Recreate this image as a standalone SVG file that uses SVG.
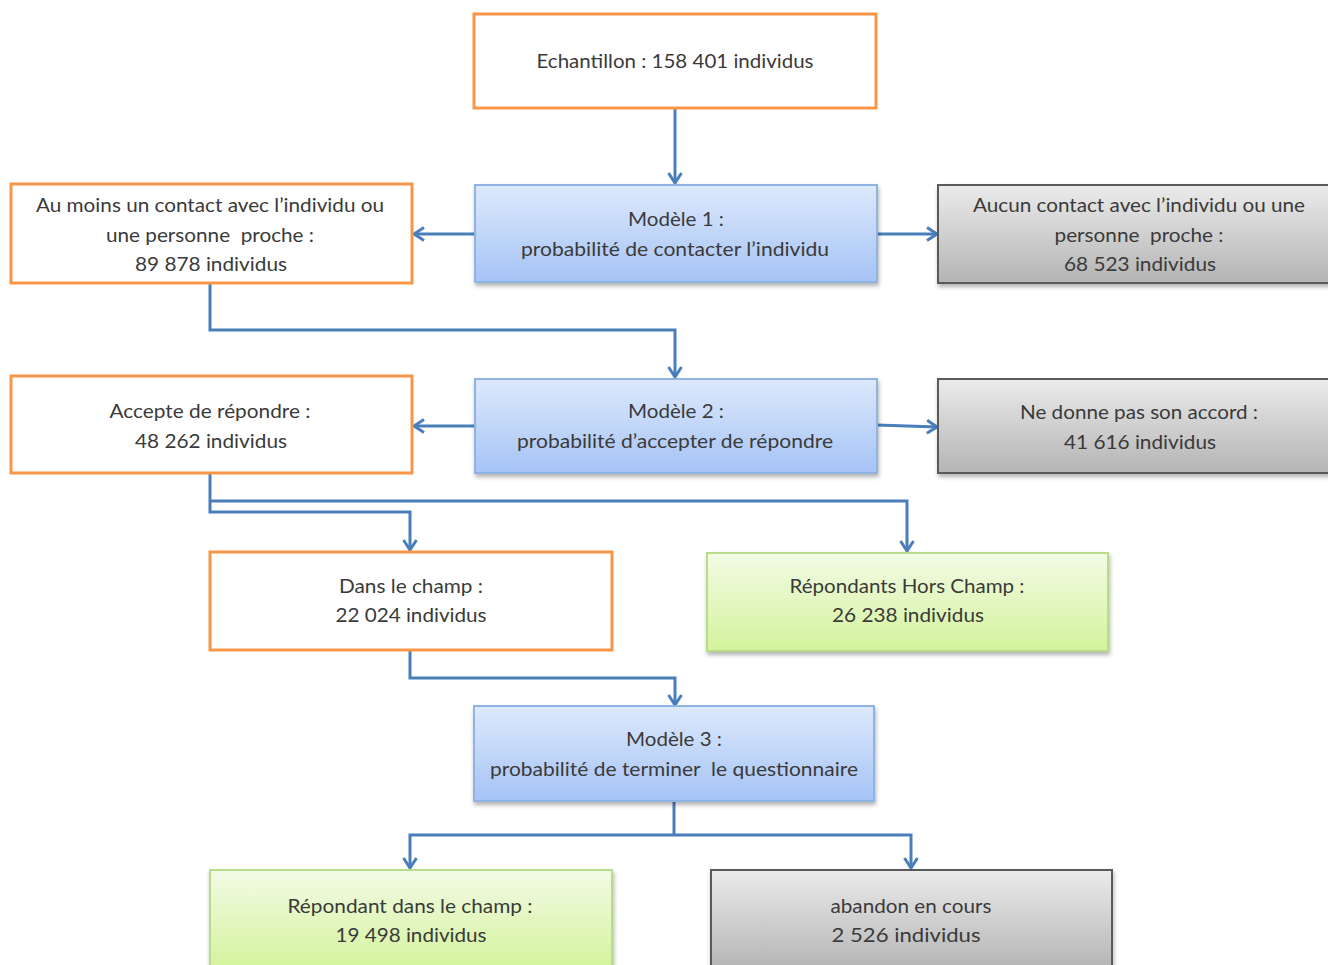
<svg xmlns="http://www.w3.org/2000/svg" width="1328" height="965" viewBox="0 0 1328 965">
<style>
  .txt { font-family: Lato, "Open Sans", "Liberation Sans", sans-serif; font-size: 20px; fill: #3a3a3a; text-anchor: middle; white-space: pre; }
  .orange { fill: #ffffff; stroke: #f79646; stroke-width: 3; }
  .blue { fill: url(#gBlue); stroke: #8fb3e3; stroke-width: 2; filter: url(#sh); }
  .gray { fill: url(#gGray); stroke: #5a5a5a; stroke-width: 2; filter: url(#sh); }
  .green { fill: url(#gGreen); stroke: #b9dc8c; stroke-width: 2; filter: url(#sh); }
  .conn { fill: none; stroke: #4a7ebb; stroke-width: 3; }
</style>
<defs>
  <linearGradient id="gBlue" x1="0" y1="0" x2="0" y2="1">
    <stop offset="0" stop-color="#dde9fc"/>
    <stop offset="1" stop-color="#a5c3f5"/>
  </linearGradient>
  <linearGradient id="gGray" x1="0" y1="0" x2="0" y2="1">
    <stop offset="0" stop-color="#ebebeb"/>
    <stop offset="1" stop-color="#b4b4b4"/>
  </linearGradient>
  <linearGradient id="gGreen" x1="0" y1="0" x2="0" y2="1">
    <stop offset="0" stop-color="#f2fbe5"/>
    <stop offset="1" stop-color="#d4f39c"/>
  </linearGradient>
  <filter id="sh" x="-5%" y="-10%" width="115%" height="130%">
    <feDropShadow dx="1" dy="3" stdDeviation="2" flood-color="#000" flood-opacity="0.3"/>
  </filter>
  <marker id="arr" markerWidth="16" markerHeight="16" viewBox="0 0 16 16" refX="13" refY="8" orient="auto" markerUnits="userSpaceOnUse">
    <polyline points="3,1.5 13,8 3,14.5" fill="none" stroke="#4a7ebb" stroke-width="3"/>
  </marker>
</defs>

<g id="connectors">
  <path class="conn" d="M675,108 V183" marker-end="url(#arr)"/>
  <path class="conn" d="M475,234 H414" marker-end="url(#arr)"/>
  <path class="conn" d="M877,234 H937" marker-end="url(#arr)"/>
  <path class="conn" d="M210,283 V330 H675 V377" marker-end="url(#arr)"/>
  <path class="conn" d="M475,426 H414" marker-end="url(#arr)"/>
  <path class="conn" d="M877,425 L937,427" marker-end="url(#arr)"/>
  <path class="conn" d="M210,473 V512 H410 V550" marker-end="url(#arr)"/>
  <path class="conn" d="M210,501 H907 V551" marker-end="url(#arr)"/>
  <path class="conn" d="M410,650 V678 H675 V705" marker-end="url(#arr)"/>
  <path class="conn" d="M674,801 V835"/>
  <path class="conn" d="M674,835 H410 V868" marker-end="url(#arr)"/>
  <path class="conn" d="M674,835 H911 V868" marker-end="url(#arr)"/>
</g>

<g id="echantillon">
  <rect class="orange" x="474" y="14" width="402" height="94"/>
  <text class="txt" x="675" y="68" textLength="277" lengthAdjust="spacingAndGlyphs">Echantillon : 158 401 individus</text>
</g>

<g id="modele1">
  <rect class="blue" x="475" y="185" width="402" height="97"/>
  <text class="txt" x="676" y="226" textLength="96" lengthAdjust="spacingAndGlyphs">Modèle 1 :</text>
  <text class="txt" x="675" y="256" textLength="308" lengthAdjust="spacingAndGlyphs">probabilité de contacter l’individu</text>
</g>

<g id="contact">
  <rect class="orange" x="11" y="184" width="401" height="99"/>
  <text class="txt" x="210" y="212" textLength="348" lengthAdjust="spacingAndGlyphs">Au moins un contact avec l’individu ou</text>
  <text class="txt" x="210" y="242" textLength="208" lengthAdjust="spacingAndGlyphs">une personne  proche :</text>
  <text class="txt" x="211" y="271" textLength="152" lengthAdjust="spacingAndGlyphs">89 878 individus</text>
</g>

<g id="aucun">
  <rect class="gray" x="938" y="185" width="395" height="98"/>
  <text class="txt" x="1139" y="212" textLength="332" lengthAdjust="spacingAndGlyphs">Aucun contact avec l’individu ou une</text>
  <text class="txt" x="1139" y="242" textLength="169" lengthAdjust="spacingAndGlyphs">personne  proche :</text>
  <text class="txt" x="1140" y="271" textLength="152" lengthAdjust="spacingAndGlyphs">68 523 individus</text>
</g>

<g id="modele2">
  <rect class="blue" x="475" y="379" width="402" height="94"/>
  <text class="txt" x="676" y="418" textLength="96" lengthAdjust="spacingAndGlyphs">Modèle 2 :</text>
  <text class="txt" x="675" y="448" textLength="316" lengthAdjust="spacingAndGlyphs">probabilité d’accepter de répondre</text>
</g>

<g id="accepte">
  <rect class="orange" x="11" y="376" width="401" height="97"/>
  <text class="txt" x="210" y="418" textLength="201" lengthAdjust="spacingAndGlyphs">Accepte de répondre :</text>
  <text class="txt" x="211" y="448" textLength="152" lengthAdjust="spacingAndGlyphs">48 262 individus</text>
</g>

<g id="nedonne">
  <rect class="gray" x="938" y="379" width="395" height="94"/>
  <text class="txt" x="1139" y="419" textLength="238" lengthAdjust="spacingAndGlyphs">Ne donne pas son accord :</text>
  <text class="txt" x="1140" y="449" textLength="152" lengthAdjust="spacingAndGlyphs">41 616 individus</text>
</g>

<g id="danschamp">
  <rect class="orange" x="210" y="552" width="402" height="98"/>
  <text class="txt" x="411" y="593" textLength="144" lengthAdjust="spacingAndGlyphs">Dans le champ :</text>
  <text class="txt" x="411" y="622" textLength="151" lengthAdjust="spacingAndGlyphs">22 024 individus</text>
</g>

<g id="horschamp">
  <rect class="green" x="707" y="553" width="401" height="98"/>
  <text class="txt" x="907" y="593" textLength="235" lengthAdjust="spacingAndGlyphs">Répondants Hors Champ :</text>
  <text class="txt" x="908" y="622" textLength="152" lengthAdjust="spacingAndGlyphs">26 238 individus</text>
</g>

<g id="modele3">
  <rect class="blue" x="474" y="706" width="400" height="95"/>
  <text class="txt" x="674" y="746" textLength="96" lengthAdjust="spacingAndGlyphs">Modèle 3 :</text>
  <text class="txt" x="674" y="776" textLength="368" lengthAdjust="spacingAndGlyphs">probabilité de terminer  le questionnaire</text>
</g>

<g id="repondant">
  <rect class="green" x="210" y="870" width="402" height="100"/>
  <text class="txt" x="410" y="913" textLength="245" lengthAdjust="spacingAndGlyphs">Répondant dans le champ :</text>
  <text class="txt" x="411" y="942" textLength="151" lengthAdjust="spacingAndGlyphs">19 498 individus</text>
</g>

<g id="abandon">
  <rect class="gray" x="711" y="870" width="401" height="100"/>
  <text class="txt" x="911" y="913" textLength="161" lengthAdjust="spacingAndGlyphs">abandon en cours</text>
  <text class="txt" x="906" y="942" textLength="149" lengthAdjust="spacingAndGlyphs">2 526 individus</text>
</g>
</svg>
